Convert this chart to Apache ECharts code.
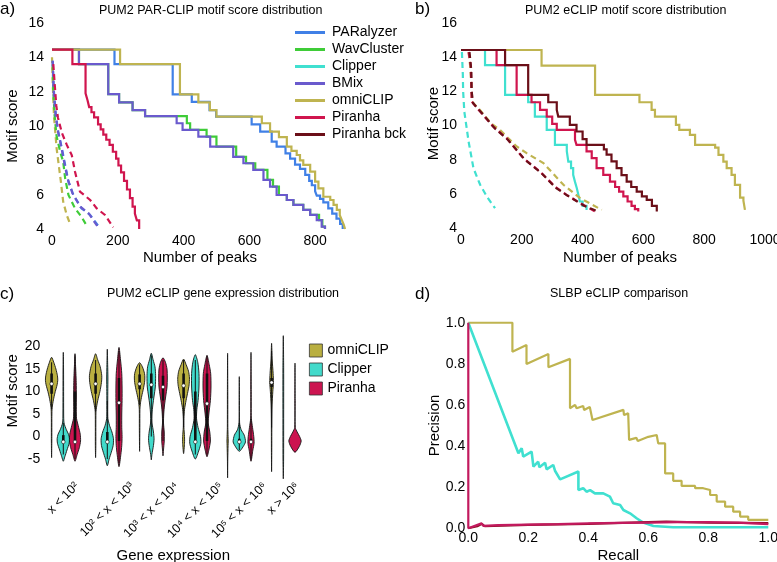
<!DOCTYPE html>
<html><head><meta charset="utf-8">
<script src="https://cdn.jsdelivr.net/npm/echarts@6/dist/echarts.min.js"></script>
<style>html,body{margin:0;padding:0;background:#fff}#c{width:777px;height:562px}</style>
</head><body><div id="c"></div>
<script>
// ---------- Panel a: PUM2 PAR-CLIP (x = number of peaks, y = motif score) ----------
const aParalyzer = [[0,14.45],[190,13.6],[367,11.84],[425,11.4],[479,10.93],[499,10.55],[607,10.1],[633,9.67],[668,9.09],[683,8.8],[710,8.4],[724,8.1],[739,7.75],[754,7.5],[770,7.15],[782,6.8],[790,6.55],[800,6.2],[805,5.95],[815,5.75],[825,5.55],[840,5.2],[852,4.9],[865,4.6],[876,4.3],[884,4.0]];
const aWavCluster = [[0,14.45],[82,13.6],[171,11.86],[204,11.38],[245,10.93],[283,10.58],[410,10.16],[420,9.77],[470,9.38],[500,8.8],[560,8.2],[590,7.83],[618,7.44],[655,6.86],[672,6.47],[690,5.98],[714,5.69],[734,5.4],[764,5.11],[785,4.82],[812,4.52],[822,4.14],[830,4.0]];
const aBMix = [[0,14.45],[82,13.6],[171,11.86],[204,11.38],[245,10.93],[283,10.58],[379,10.16],[397,9.77],[445,9.38],[481,8.8],[551,8.2],[582,7.83],[612,7.44],[643,6.86],[663,6.47],[683,5.98],[714,5.69],[734,5.4],[764,5.11],[785,4.82],[805,4.52],[820,4.14],[830,4.0]];
const aOmni = [[0,14.45],[207,13.6],[389,11.84],[445,11.38],[480,10.93],[500,10.55],[638,10.16],[663,9.67],[690,9.35],[714,8.8],[728,8.55],[744,8.31],[754,8.0],[764,7.73],[785,7.34],[800,6.76],[810,6.37],[825,5.88],[846,5.69],[856,5.4],[866,5.11],[875,4.8],[881,4.53],[887,4.25],[891,4.0]];
const aPiranha = [[0,14.45],[62,13.6],[102,11.9],[108,11.5],[113,11.1],[120,10.8],[128,10.5],[140,10.1],[148,9.8],[156,9.5],[165,9.2],[175,8.9],[185,8.5],[195,8.1],[202,7.7],[210,7.3],[219,6.8],[228,6.3],[237,5.8],[245,5.3],[252,4.9],[258,4.5],[265,4.0]];
// dashed (background) curves in panel a
const aParalyzerBg = [[2,13.8],[6,12],[12,10.6],[19,9.67],[30,8.7],[40,7.73],[50,6.76],[65,5.98],[90,5.2],[116,4.82],[146,4.04]];
const aWavClusterBg = [[2,13.6],[4,12],[8,10.6],[14,9.4],[25,8.5],[34,7.92],[40,6.95],[50,5.98],[70,5.2],[90,4.7],[107,4.14]];
const aBMixBg = [[2,13.8],[5,12],[10,10.8],[17,9.8],[28,8.8],[38,7.8],[48,6.9],[62,6.1],[86,5.3],[112,4.9],[140,4.1]];
const aOmniBg = [[0,14.0],[2,12.6],[6,10.6],[14,8.7],[27,6.76],[34,5.6],[45,4.8],[55,4.3]];
const aPiranhaBg = [[4,13.6],[8,12.5],[13,11.2],[18,10.5],[30,9.6],[45,8.9],[60,8.31],[70,7.34],[85,6.18],[116,5.69],[136,5.2],[161,4.82],[186,4.1]];

// ---------- Panel b: PUM2 eCLIP ----------
const bClipper = [[0,14.42],[79,13.54],[145,11.79],[221,11.36],[243,10.52],[282,9.74],[309,8.87],[348,8.5],[353,7.89],[362,7.5],[369,7.11],[375,6.7],[381,6.33],[386,5.95],[391,5.55],[400,5.3],[413,5.06]];
const bOmni = [[0,14.42],[265,13.5],[441,11.79],[587,11.36],[627,10.91],[638,10.52],[707,10.04],[718,9.74],[753,9.45],[770,8.87],[836,8.71],[847,8.28],[863,7.89],[874,7.5],[890,7.11],[901,6.53],[918,5.78],[929,5.6],[934,5.06]];
const bPiranha = [[0,14.42],[117,13.54],[183,11.79],[232,11.36],[260,10.91],[282,10.52],[300,10.1],[315,9.74],[375,9.16],[380,8.87],[413,8.48],[430,8.09],[446,7.5],[468,7.11],[490,6.72],[507,6.4],[520,6.13],[534,5.85],[548,5.55],[561,5.3],[572,5.1],[583,4.97]];
const bPiranhaBck = [[0,14.42],[145,13.54],[221,11.79],[287,11.36],[315,10.91],[320,10.52],[358,10.04],[380,9.65],[400,9.2],[413,8.87],[470,8.6],[479,8.3],[495,7.9],[512,7.5],[528,7.1],[545,6.72],[560,6.4],[578,6.13],[595,5.85],[611,5.65],[628,5.3],[644,4.97]];
const bClipperBg = [[3,14.3],[6,13],[7,12],[11,10.8],[25,9.06],[41,7.5],[63,6.53],[85,5.84],[112,5.16]];
const bOmniBg = [[25,14.3],[30,13.5],[34,12.4],[36,11.4],[65,10.85],[100,10.1],[128,9.74],[183,8.77],[216,8.38],[271,7.8],[337,6.53],[392,5.75],[463,5.06]];
const bPiranhaBg = [[25,14.3],[32,13.5],[34,12.4],[35,11.4],[63,10.81],[106,9.94],[150,9.26],[205,8.09],[260,7.3],[309,6.43],[347,5.94],[402,5.36],[440,4.97]];
const bPiranhaBckBg = [[28,14.3],[34,13.2],[35,12],[40,11.3],[70,10.7],[110,9.85],[155,9.15],[210,8.0],[265,7.2],[312,6.35],[350,5.9],[405,5.3],[446,5.0]];

// ---------- Panel c: gene expression violins ----------
const exprLabels = ['x < 10²', '10² < x < 10³', '10³ < x < 10⁴', '10⁴ < x < 10⁵', '10⁵ < x < 10⁶', 'x > 10⁶'];
// profiles: [motif score, relative density]
const omniViolins = [
 [[17.6,0],[16.5,0.35],[15,0.7],[13.5,0.95],[12.5,1],[11.5,0.9],[10,0.6],[8.5,0.35],[7,0.15],[6,0.07],[4,0.04],[0,0.04],[-2,0.03],[-4.7,0]],
 [[18.4,0],[17,0.35],[15.5,0.75],[13.5,1],[12,0.95],[10,0.7],[8,0.35],[6.5,0.15],[5.5,0.06],[2,0.04],[-2,0.04],[-4.7,0]],
 [[16.4,0],[15.5,0.45],[14,0.8],[13,0.85],[12,0.8],[10.5,0.6],[9,0.35],[7.5,0.15],[6,0.05],[2,0.04],[-3.3,0]],
 [[17.2,0],[16,0.4],[14.5,0.8],[13,0.95],[11.5,0.9],[10,0.7],[8,0.4],[6,0.15],[4,0.05],[2,0.05],[0,0.15],[-1.5,0.15],[-3.8,0]],
 [[18.5,0],[10,0.03],[2,0.04],[0,0.08],[-1,0.1],[-2,0.08],[-5,0.03],[-9.2,0]],
 [[20.7,0],[17,0.1],[14,0.25],[12,0.3],[10,0.2],[7,0.08],[3,0.04],[-3,0.03],[-7.8,0]]
];
const clipperViolins = [
 [[18.7,0],[15,0.04],[10,0.05],[5,0.06],[3,0.12],[1.5,0.5],[0.5,0.85],[-0.5,1],[-1.5,0.95],[-3,0.6],[-4.5,0.25],[-5.5,0]],
 [[19.4,0],[16,0.06],[13,0.1],[10,0.08],[6,0.07],[4,0.1],[2.5,0.35],[1,0.75],[-0.5,1],[-2,0.95],[-3.5,0.65],[-5,0.3],[-6.5,0]],
 [[18.5,0],[17,0.3],[15.5,0.6],[13.5,0.7],[11,0.65],[9,0.45],[7,0.25],[5,0.12],[3,0.12],[1,0.35],[-0.5,0.45],[-2,0.35],[-4,0.1],[-5.2,0]],
 [[18.2,0],[16.5,0.4],[14,0.6],[11,0.6],[8,0.45],[6,0.25],[4,0.2],[2,0.45],[0,0.85],[-1.5,0.9],[-3,0.6],[-5,0]],
 [[13.3,0],[8,0.03],[3,0.05],[1.5,0.3],[0.3,0.8],[-1.2,1],[-2.3,0.6],[-3.3,0]],
 [[22.4,0],[15,0.06],[5,0.06],[-5,0.05],[-9.4,0]]
];
const piranhaViolins = [
 [[18.4,0],[16,0.08],[14,0.15],[12,0.2],[9,0.22],[6,0.2],[4,0.25],[2,0.6],[0.5,0.85],[-1,0.9],[-2.5,0.7],[-4,0.35],[-5.5,0]],
 [[19.8,0],[17,0.25],[14,0.45],[11,0.5],[8,0.5],[5,0.45],[2,0.45],[0,0.5],[-2,0.45],[-4,0.3],[-6.7,0]],
 [[17.5,0],[16.5,0.4],[15,0.65],[13,0.7],[11,0.65],[9,0.45],[7,0.25],[5,0.12],[3,0.08],[1,0.2],[-1,0.2],[-3,0.08],[-4.3,0]],
 [[18,0],[16,0.35],[14,0.6],[11,0.65],[8,0.55],[5,0.3],[3,0.2],[1,0.45],[-1,0.55],[-3,0.3],[-4.5,0]],
 [[18.7,0],[10,0.04],[4,0.06],[2,0.25],[0,0.45],[-1.5,0.5],[-3,0.3],[-5.5,0]],
 [[16.3,0],[8,0.03],[2,0.05],[1,0.35],[0,0.75],[-1,1],[-2.2,0.7],[-3.5,0]]
];
// inner box: [low whisker, q1, median, q3, high whisker]
const omniStats = [[6,9.5,11.7,14,16.5],[5.5,9.5,11.7,14,17],[7,10.5,11.7,13.8,16],[2,8.5,11.3,14,17],null,[2,11,12,13,19]];
const clipperStats = [[-4,-1.2,-1.2,0.3,3],[-5,-1.2,-1.2,1,8],[0,8.5,11.5,14,18],[-4,-1.2,-1.2,10,17],[-3,-1.2,-1.2,-0.5,3],null];
const piranhaStats = [[-5,-1.2,-1.2,10,18],[-6,-1,7.5,13,19],[-1,8,11,13.5,17],[-4,-1,7.3,14,18],[-5,-1.2,-1.2,-0.5,4],null];

// ---------- Panel d: SLBP eCLIP precision / recall ----------
const dOmni = [[0,1],[0.147,1],[0.147,0.859],[0.194,0.892],[0.194,0.799],[0.267,0.848],[0.267,0.783],[0.339,0.824],[0.339,0.584],[0.356,0.6],[0.361,0.584],[0.383,0.595],[0.386,0.575],[0.405,0.59],[0.411,0.585],[0.414,0.527],[0.517,0.576],[0.519,0.551],[0.533,0.559],[0.536,0.43],[0.56,0.44],[0.565,0.425],[0.6,0.445],[0.628,0.454],[0.633,0.413],[0.656,0.413],[0.656,0.267],[0.683,0.267],[0.683,0.231],[0.711,0.231],[0.711,0.206],[0.756,0.206],[0.756,0.195],[0.783,0.195],[0.783,0.186],[0.806,0.186],[0.806,0.162],[0.828,0.162],[0.828,0.13],[0.856,0.13],[0.856,0.105],[0.883,0.105],[0.883,0.081],[0.906,0.081],[0.906,0.057],[0.933,0.057],[0.933,0.041],[1.0,0.041]];
const dClipper = [[0,1],[0.167,0.365],[0.178,0.389],[0.183,0.349],[0.211,0.373],[0.217,0.3],[0.233,0.324],[0.237,0.297],[0.256,0.319],[0.261,0.287],[0.283,0.308],[0.289,0.28],[0.306,0.238],[0.367,0.276],[0.367,0.186],[0.383,0.195],[0.394,0.178],[0.406,0.186],[0.422,0.17],[0.45,0.17],[0.472,0.154],[0.483,0.122],[0.506,0.113],[0.517,0.089],[0.539,0.073],[0.561,0.049],[0.583,0.028],[0.617,0.011],[0.683,0.005],[1.0,0.005]];
const dPiranhaBck = [[0,0],[0.03,0.01],[0.045,0.022],[0.055,0.01],[0.2,0.017],[0.4,0.022],[0.6,0.03],[0.66,0.032],[0.8,0.028],[1.0,0.025]];
const dPiranha = [[0,1],[0,0],[0.044,0.024],[0.05,0.012],[0.1,0.015],[0.2,0.018],[0.3,0.02],[0.4,0.024],[0.5,0.026],[0.6,0.028],[0.7,0.03],[0.8,0.03],[0.9,0.028],[1.0,0.02]];

const legendNames = ['PARalyzer','WavCluster','Clipper','BMix','omniCLIP','Piranha','Piranha bck'];
const violinNames = ['omniCLIP','Clipper','Piranha'];

// ---------- styling ----------
const COL = {PARalyzer:'#4080E6', WavCluster:'#3FCC38', Clipper:'#40E0D0', BMix:'#6A5ACD', omniCLIP:'#BFB450', Piranha:'#D0154E', 'Piranha bck':'#6B0F18'};
const VCOL = {omniCLIP:'#B9AF40', Clipper:'#42DACB', Piranha:'#CC1450'};
const FONT = '"Liberation Sans", Arial, Helvetica, sans-serif';
const lbl = {color:'#000', fontFamily:FONT, fontSize:14};
const nm = {color:'#000', fontFamily:FONT, fontSize:15};
const hidden = {axisLine:{show:false}, axisTick:{show:false}, splitLine:{show:false}};

function stepSeries(name, data, xi, dashed) {
  return {name, type:'line', xAxisIndex:xi, yAxisIndex:xi, data, step: dashed ? false : 'end',
    symbol:'none', silent:true,
    itemStyle:{color:COL[name]},
    lineStyle:{color:COL[name], width:2.2, type: dashed ? [6,4] : 'solid', cap:'butt', join:'miter'}};
}
function prSeries(name, data, color, w) {
  return {name, type:'line', xAxisIndex:3, yAxisIndex:3, data, symbol:'none', silent:true,
    itemStyle:{color}, lineStyle:{color, width:w||2.2}};
}

const SLOT = 0.266, HALF = 0.14;
function violinSeries(name, profiles, stats, slot) {
  const fill = VCOL[name];
  return {name, type:'custom', xAxisIndex:2, yAxisIndex:2, silent:true, clip:false,
    itemStyle:{color:fill},
    data: exprLabels.map((_, i) => [i, 0]),
    renderItem(params, api) {
      const i = params.dataIndex;
      const band = api.size([1, 0])[0];
      const cx = api.coord([i, 0])[0] + (slot - 1) * band * SLOT;
      const half = band * HALF;
      const yy = s => api.coord([i, s])[1];
      const prof = profiles[i];
      const right = prof.map(p => [cx + p[1] * half, yy(p[0])]);
      const left = prof.slice(1, -1).reverse().map(p => [cx - p[1] * half, yy(p[0])]);
      const kids = [{type:'polygon', shape:{points: right.concat(left), smooth:0.25},
        style:{fill, stroke:'#161616', lineWidth:0.9}}];
      const st = stats[i];
      if (st) {
        kids.push({type:'line', shape:{x1:cx, y1:yy(st[0]), x2:cx, y2:yy(st[4])}, style:{stroke:'#111', lineWidth:1}});
        if (st[3] > st[1]) kids.push({type:'line', shape:{x1:cx, y1:yy(st[1]), x2:cx, y2:yy(st[3])}, style:{stroke:'#111', lineWidth:2.6}});
        kids.push({type:'circle', shape:{cx, cy:yy(st[2]), r:1.8}, style:{fill:'#fff', stroke:'#111', lineWidth:0.6}});
      }
      return {type:'group', children:kids};
    }};
}

// rotated category labels of panel c: centre each rotated label's box under its tick
const LF = 12.5;
const mctx = document.createElement('canvas').getContext('2d');
mctx.font = LF + 'px ' + FONT;
const rich = {};
exprLabels.forEach((t, i) => {
  const L = mctx.measureText(t).width;
  const D = Math.max(0, 0.354 * (L + 14) - 2);
  const p = Math.SQRT2 * D;
  rich['t' + i] = {padding:[p, p, 0, 0], fontSize:LF, fontFamily:FONT, color:'#000'};
});

const titleStyle = {fontFamily:FONT, fontSize:12.5, fontWeight:'normal', color:'#000'};
const letterStyle = {fontFamily:FONT, fontSize:17, fontWeight:'normal', color:'#000'};

const option = {
  animation:false,
  backgroundColor:'#fff',
  title:[
    {text:'a)', left:0, top:1, padding:0, textStyle:letterStyle},
    {text:'b)', left:415, top:1, padding:0, textStyle:letterStyle},
    {text:'c)', left:0, top:286, padding:0, textStyle:letterStyle},
    {text:'d)', left:415, top:286, padding:0, textStyle:letterStyle},
    {text:'PUM2 PAR-CLIP motif score distribution', left:99, top:4, padding:0, textStyle:titleStyle},
    {text:'PUM2 eCLIP motif score distribution', left:525, top:4, padding:0, textStyle:titleStyle},
    {text:'PUM2 eCLIP gene expression distribution', left:107, top:287, padding:0, textStyle:titleStyle},
    {text:'SLBP eCLIP comparison', left:550, top:287, padding:0, textStyle:titleStyle}
  ],
  legend:[
    {orient:'vertical', left:295, top:24, padding:0, itemGap:0, itemWidth:30, itemHeight:3, icon:'rect',
     data: legendNames, textStyle:{...lbl, lineHeight:17, padding:[0,0,0,2]}, selectedMode:false},
    {orient:'vertical', left:309, top:341, padding:0, itemGap:0, itemWidth:13, itemHeight:13,
     data: violinNames.map(n => ({name:n, icon:'rect', itemStyle:{color:VCOL[n], borderColor:'#333', borderWidth:0.8}})),
     textStyle:{...lbl, lineHeight:19}, selectedMode:false}
  ],
  grid:[
    {left:52, top:23, width:296, height:206, outerBoundsMode:'none'},
    {left:461, top:23, width:304, height:205, outerBoundsMode:'none'},
    {left:41.3, top:324, width:264, height:157.5, outerBoundsMode:'none'},
    {left:468.3, top:322.7, width:300, height:205.6, outerBoundsMode:'none'}
  ],
  xAxis:[
    {gridIndex:0, type:'value', min:0, max:900, interval:200, ...hidden,
     axisLabel:{...lbl, margin:5, formatter:v => v % 200 === 0 ? String(v) : ''},
     name:'Number of peaks', nameLocation:'middle', nameGap:21, nameTextStyle:nm, nameMoveOverlap:false},
    {gridIndex:1, type:'value', min:0, max:1000, interval:200, ...hidden,
     axisLabel:{...lbl, margin:5, formatter:v => String(v)},
     name:'Number of peaks', nameLocation:'middle', nameGap:22, nameTextStyle:{...nm, padding:[0,0,0,14]}, nameMoveOverlap:false},
    {gridIndex:2, type:'category', data:exprLabels, boundaryGap:true, ...hidden,
     axisLabel:{interval:0, rotate:45, align:'center', verticalAlign:'middle', margin:0,
       formatter:(v, i) => '{t' + i + '|' + v + '}', rich},
     name:'Gene expression', nameLocation:'middle', nameGap:67, nameTextStyle:nm, nameMoveOverlap:false},
    {gridIndex:3, type:'value', min:0, max:1, interval:0.2, ...hidden,
     axisLabel:{...lbl, margin:3, formatter:v => v.toFixed(1)},
     name:'Recall', nameLocation:'middle', nameGap:20, nameTextStyle:nm, nameMoveOverlap:false}
  ],
  yAxis:[
    {gridIndex:0, type:'value', min:4, max:16, interval:2, ...hidden, axisLabel:{...lbl, margin:8},
     name:'Motif score', nameLocation:'middle', nameGap:32, nameTextStyle:nm, nameMoveOverlap:false},
    {gridIndex:1, type:'value', min:4, max:16, interval:2, ...hidden, axisLabel:{...lbl, margin:4},
     name:'Motif score', nameLocation:'middle', nameGap:20, nameTextStyle:{...nm, padding:[0,0,0,4]}, nameMoveOverlap:false},
    {gridIndex:2, type:'value', min:-10, max:25, interval:5, ...hidden,
     axisLabel:{...lbl, margin:1, formatter:v => (v < -5 || v > 20) ? '' : String(v)},
     name:'Motif score', nameLocation:'middle', nameGap:21, nameTextStyle:{...nm, padding:[0,0,0,24]}, nameMoveOverlap:false},
    {gridIndex:3, type:'value', min:0, max:1, interval:0.2, ...hidden,
     axisLabel:{...lbl, margin:3, formatter:v => v.toFixed(1)},
     name:'Precision', nameLocation:'middle', nameGap:26, nameTextStyle:nm, nameMoveOverlap:false}
  ],
  series:[
    stepSeries('PARalyzer', aParalyzer, 0, false),
    stepSeries('WavCluster', aWavCluster, 0, false),
    stepSeries('BMix', aBMix, 0, false),
    stepSeries('omniCLIP', aOmni, 0, false),
    stepSeries('Piranha', aPiranha, 0, false),
    stepSeries('omniCLIP', aOmniBg, 0, true),
    stepSeries('WavCluster', aWavClusterBg, 0, true),
    stepSeries('PARalyzer', aParalyzerBg, 0, true),
    stepSeries('BMix', aBMixBg, 0, true),
    stepSeries('Piranha', aPiranhaBg, 0, true),

    stepSeries('Clipper', bClipper, 1, false),
    stepSeries('omniCLIP', bOmni, 1, false),
    stepSeries('Piranha', bPiranha, 1, false),
    stepSeries('Piranha bck', bPiranhaBck, 1, false),
    stepSeries('Clipper', bClipperBg, 1, true),
    stepSeries('omniCLIP', bOmniBg, 1, true),
    stepSeries('Piranha', bPiranhaBg, 1, true),
    stepSeries('Piranha bck', bPiranhaBckBg, 1, true),

    violinSeries('omniCLIP', omniViolins, omniStats, 0),
    violinSeries('Clipper', clipperViolins, clipperStats, 1),
    violinSeries('Piranha', piranhaViolins, piranhaStats, 2),

    prSeries('omniCLIP', dOmni, COL.omniCLIP, 2.2),
    prSeries('Clipper', dClipper, COL.Clipper, 2.6),
    prSeries('Piranha bck', dPiranhaBck, '#8B0F22', 2.2),
    prSeries('Piranha', dPiranha, '#C21A5E', 2.2)
  ]
};
const chart = echarts.init(document.getElementById('c'), null, {renderer:'canvas'});
chart.setOption(option);
</script></body></html>
